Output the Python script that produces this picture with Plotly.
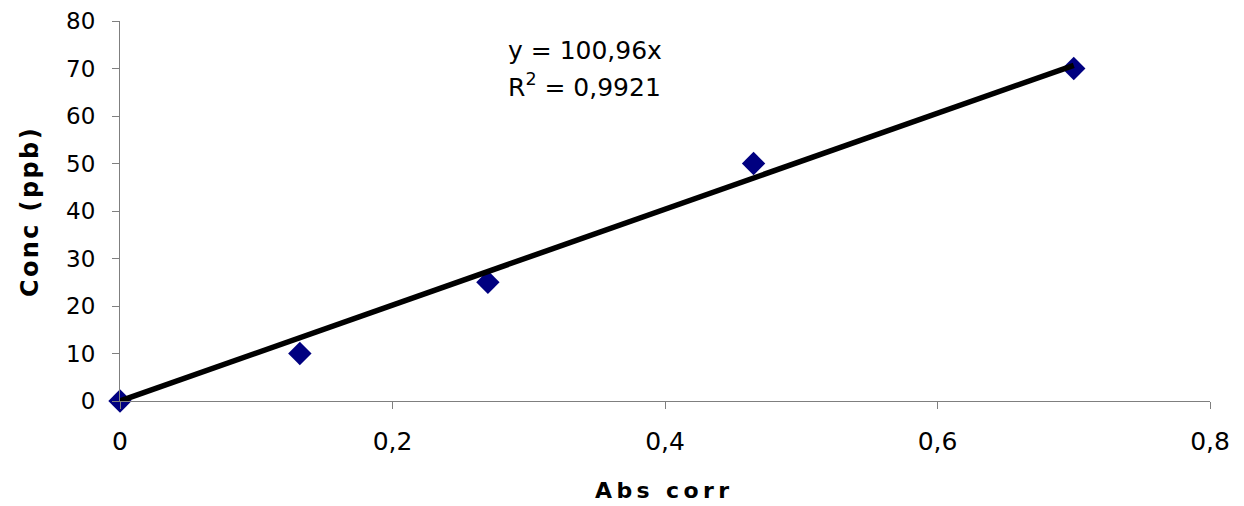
import plotly.graph_objects as go

# Data
abs_corr = [0.0, 0.132, 0.27, 0.465, 0.70]
conc_ppb = [0, 10, 25, 50, 70]
slope = 100.96
r_squared = "0,9921"
trend_x = [0.0, 0.70]
trend_y = [slope * v for v in trend_x]

x_ticks = [0, 0.2, 0.4, 0.6, 0.8]
y_ticks = [0, 10, 20, 30, 40, 50, 60, 70, 80]

FONT = "DejaVu Sans"

fig = go.Figure()
fig.add_trace(go.Scatter(
    x=abs_corr, y=conc_ppb, mode="markers",
    marker=dict(symbol="diamond", size=18, color="#000080", line=dict(width=0)),
    cliponaxis=False, showlegend=False,
))
fig.add_trace(go.Scatter(
    x=trend_x, y=trend_y, mode="lines",
    line=dict(color="#000000", width=5.5),
    cliponaxis=False, showlegend=False,
))

fig.update_layout(
    width=1236, height=498,
    margin=dict(l=112, r=34, t=13, b=105),
    paper_bgcolor="white", plot_bgcolor="white",
    separators=", ",
    showlegend=False,
    font=dict(family=FONT, color="#000000"),
)
fig.update_xaxes(
    range=[0, 0.8], tickvals=x_ticks, automargin=False,
    showgrid=False, zeroline=False,
    showline=True, linecolor="#7f7f7f", linewidth=1,
    ticks="outside", ticklen=7, tickcolor="#7f7f7f", tickwidth=1,
    tickfont=dict(family=FONT, size=25, color="#000000"),
    ticklabelstandoff=11,
)
fig.update_yaxes(
    range=[0, 80], tickvals=y_ticks, automargin=False,
    showgrid=False, zeroline=False,
    showline=True, linecolor="#7f7f7f", linewidth=1,
    ticks="outside", ticklen=7, tickcolor="#7f7f7f", tickwidth=1,
    tickfont=dict(family=FONT, size=23, color="#000000"),
    ticklabelstandoff=12,
)

fig.add_annotation(
    text="y = 100,96x", xref="paper", yref="paper",
    x=0.4266, y=0.923, xanchor="center", yanchor="middle",
    showarrow=False, font=dict(family=FONT, size=25, color="#000000"),
)
fig.add_annotation(
    text="R<sup>2</sup> = " + r_squared, xref="paper", yref="paper",
    x=0.4266, y=0.830, xanchor="center", yanchor="middle",
    showarrow=False, font=dict(family=FONT, size=25, color="#000000"),
)
fig.add_annotation(
    text="\u2009".join("Abs corr"), xref="paper", yref="paper",
    x=0.497, y=-0.236, xanchor="center", yanchor="middle",
    showarrow=False, font=dict(family=FONT, size=22, color="#000000", weight="bold"),
)
fig.add_annotation(
    text="\u200a".join("Conc (ppb)"), xref="paper", yref="paper",
    x=-0.0826, y=0.497, xanchor="center", yanchor="middle", textangle=-90,
    showarrow=False, font=dict(family=FONT, size=24, color="#000000", weight="bold"),
)

fig.write_html("out.html")
